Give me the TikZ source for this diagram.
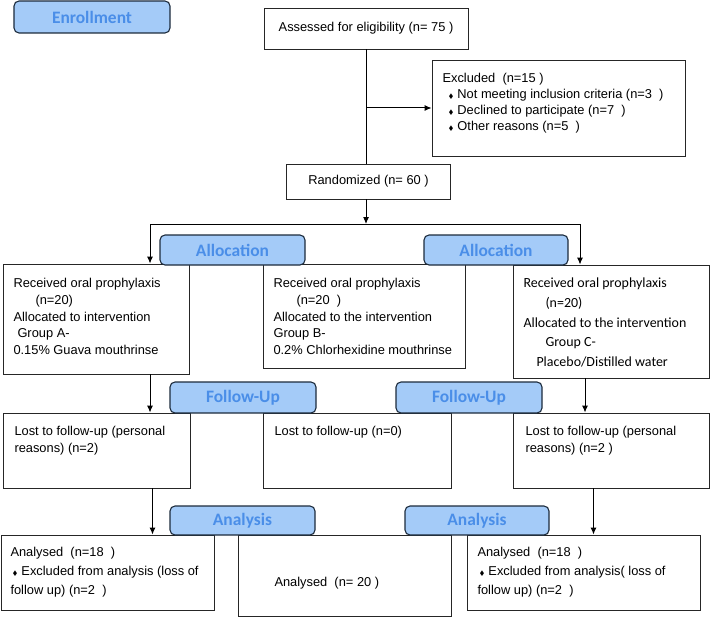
\documentclass[tikz,border=0pt]{standalone}
\usepackage{amssymb}
\usepackage{fontspec}
\setmainfont{Liberation Sans}
\newfontfamily\calibri{Carlito}
\usetikzlibrary{arrows.meta}
\definecolor{stagefill}{HTML}{A4CBF8}
\definecolor{stagetext}{HTML}{4A8EE8}
\definecolor{stageline}{HTML}{1C2B3C}
\newcommand{\dmd}{$\scriptscriptstyle\blacklozenge$}
\tikzset{
  box/.style={draw=black!85, line width=0.9bp, rectangle, inner sep=0pt},
  stage/.style={draw=stageline, fill=stagefill, line width=1.1bp, rounded corners=5bp, inner sep=0pt,
    minimum width=145bp, minimum height=30bp, text=stagetext,
    font=\calibri\bfseries\fontsize{17.5}{20}\selectfont},
  txt/.style={anchor=north west, inner sep=0pt, align=left, font=\fontsize{12.9}{16.75}\selectfont},
}
\begin{document}
\begin{tikzpicture}[x=1bp,y=-1bp,>={Latex[length=7bp,width=6bp]},line width=1bp]
  \useasboundingbox (0,0) rectangle (710,617);

  % enrollment
  \node[box, minimum width=204bp, minimum height=41bp, font=\fontsize{12.9}{15}\selectfont] (assess) at (366,28.5) {Assessed for eligibility (n= 75 )};
  \node[box, minimum width=253bp, minimum height=96bp] (excl) at (558.5,108) {};
  \node[txt, font=\fontsize{12.9}{16}\selectfont] (exclTxt) at (442,73) {Excluded\ \ (n=15 )\\
    \hspace{6bp}\dmd\hspace{4bp}Not meeting inclusion criteria (n=3\ \ )\\
    \hspace{6bp}\dmd\hspace{4bp}Declined to participate (n=7\ \ )\\
    \hspace{6bp}\dmd\hspace{4bp}Other reasons (n=5\ \ )};
  \node[box, minimum width=164bp, minimum height=35bp, font=\fontsize{12.9}{15}\selectfont] (rand) at (368.5,181.5) {Randomized (n= 60 )};

  % allocation
  \node[box, minimum width=186bp, minimum height=110bp] (grpA) at (96,319) {};
  \node[txt] (grpATxt) at (13,278) {Received oral prophylaxis\\
    \hspace{22bp}(n=20)\\
    Allocated to intervention\\
    \hspace{4bp}Group A-\\
    0.15\% Guava mouthrinse};
  \node[box, minimum width=202bp, minimum height=104bp] (grpB) at (364,316) {};
  \node[txt] (grpBTxt) at (273,278) {Received oral prophylaxis\\
    \hspace{23bp}(n=20\ \ )\\
    Allocated to the intervention\\
    Group B-\\
    0.2\% Chlorhexidine mouthrinse};
  \node[box, minimum width=196bp, minimum height=113bp] (grpC) at (611,321.5) {};
  \node[txt, font=\calibri\fontsize{14}{20}\selectfont] (grpCTxt) at (523,277) {Received oral prophylaxis\\
    \hspace{22bp}(n=20)\\
    Allocated to the intervention\\
    \hspace{22bp}Group C-\\
    \hspace{13bp}Placebo/Distilled water};

  % follow-up
  \node[box, minimum width=187bp, minimum height=75bp] (lostA) at (96.5,450.5) {};
  \node[txt] (lostATxt) at (14,426) {Lost to follow-up (personal\\reasons) (n=2)};
  \node[box, minimum width=188bp, minimum height=75bp] (lostB) at (357,450.5) {};
  \node[txt] (lostBTxt) at (274,426) {Lost to follow-up (n=0)};
  \node[box, minimum width=196bp, minimum height=75bp] (lostC) at (611,450.5) {};
  \node[txt] (lostCTxt) at (525,426) {Lost to follow-up (personal\\reasons) (n=2 )};

  % analysis
  \node[box, minimum width=213bp, minimum height=75bp] (anzA) at (107.5,572.5) {};
  \node[txt, font=\fontsize{12.9}{19}\selectfont] (anzATxt) at (10,547) {Analysed\ \ (n=18\ \ )\\
    \hspace{2bp}\dmd\hspace{4bp}Excluded from analysis (loss of\\
    follow up) (n=2\ \ )};
  \node[box, minimum width=213bp, minimum height=81bp] (anzB) at (344.5,575.5) {};
  \node[txt] (anzBTxt) at (274,577) {Analysed\ \ (n= 20 )};
  \node[box, minimum width=233bp, minimum height=75bp] (anzC) at (583.5,572.5) {};
  \node[txt, font=\fontsize{12.9}{19}\selectfont] (anzCTxt) at (477,547) {Analysed\ \ (n=18\ \ )\\
    \hspace{2bp}\dmd\hspace{4bp}Excluded from analysis( loss of\\
    follow up) (n=2\ \ )};

  % connectors
  \coordinate (split) at (366,224);
  \coordinate (splitA) at (150,224);
  \coordinate (splitC) at (580,224);
  \coordinate (colC) at (585,400);
  \coordinate (colA2) at (152.5,500);
  \coordinate (colC2) at (593.5,500);
  \draw (assess.south) -- (assess.south |- rand.north);
  \draw[->] (assess.south |- excl.west) -- (excl.west);
  \draw[->] (assess.south |- rand.south) -- (split);
  \draw (splitA) -- (splitC);
  \draw[->] (splitA) -- (splitA |- grpA.north);
  \draw[->] (splitC) -- (splitC |- grpC.north);
  \draw[->] (grpA.south -| splitA) -- (lostA.north -| splitA);
  \draw[->] (grpC.south -| colC) -- (lostC.north -| colC);
  \draw[->] (lostA.south -| colA2) -- (anzA.north -| colA2);
  \draw[->] (lostC.south -| colC2) -- (anzC.north -| colC2);

  % stage labels
  \node[stage, minimum width=156bp, minimum height=32bp] (enrol) at (92,17) {Enrollment};
  \node[stage] (allocL) at (232.5,250) {Allocation};
  \node[stage, minimum width=144bp] (allocR) at (496,250) {Allocation};
  \node[stage, minimum width=146bp, minimum height=31bp] (followL) at (243,397.5) {Follow-Up};
  \node[stage, minimum width=146bp, minimum height=31bp] (followR) at (469,397.5) {Follow-Up};
  \node[stage, minimum height=29bp] (anaL) at (242.5,520.5) {Analysis};
  \node[stage, minimum width=144bp, minimum height=29bp] (anaR) at (477,520.5) {Analysis};
\end{tikzpicture}
\end{document}
